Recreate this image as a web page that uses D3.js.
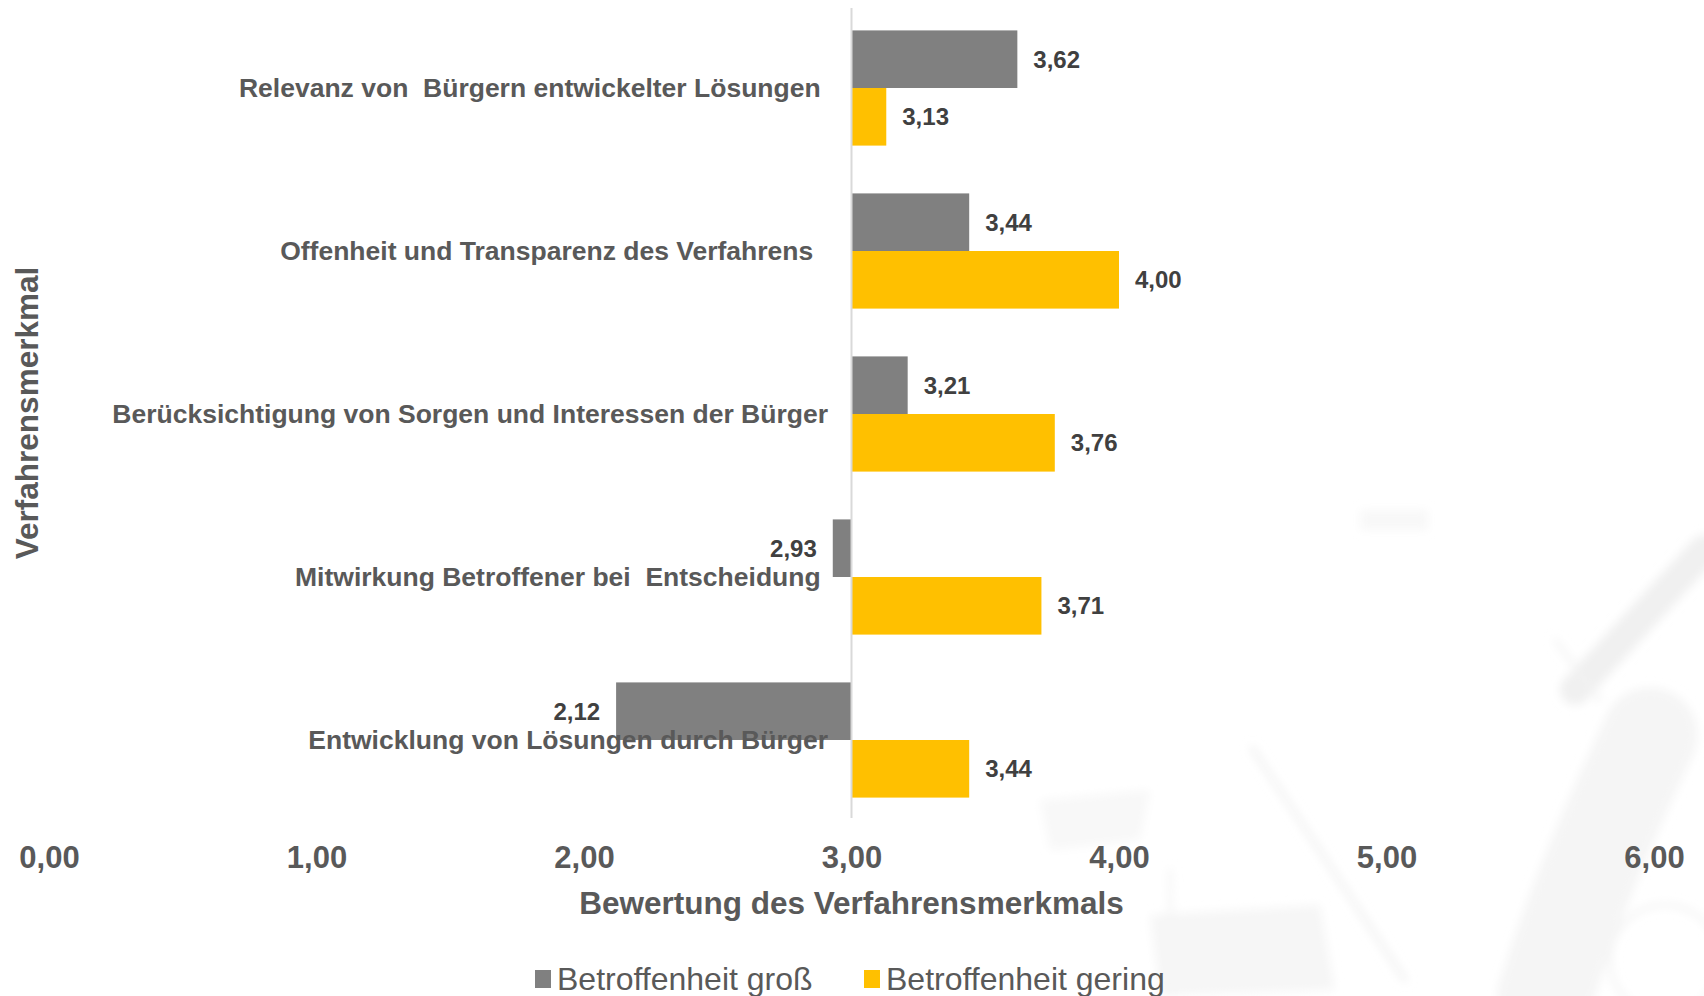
<!DOCTYPE html>
<html lang="de">
<head>
<meta charset="utf-8">
<title>Bewertung der Verfahrensmerkmale</title>
<script src="https://cdn.jsdelivr.net/npm/d3@7"></script>
<style>
  html, body { margin: 0; padding: 0; background: #ffffff; }
  svg { display: block; font-family: "Liberation Sans", Arial, sans-serif; }
  text { white-space: pre; }
</style>
</head>
<body>
<svg id="chart" width="1704" height="996"></svg>
<script>
// Verfahrensmerkmale (top to bottom)
const categories = [
  "Relevanz von  Bürgern entwickelter Lösungen ",
  "Offenheit und Transparenz des Verfahrens  ",
  "Berücksichtigung von Sorgen und Interessen der Bürger",
  "Mitwirkung Betroffener bei  Entscheidung ",
  "Entwicklung von Lösungen durch Bürger"
];
const seriesNames = ["Betroffenheit groß", "Betroffenheit gering"];
const valuesGross  = [3.62, 3.44, 3.21, 2.93, 2.12];
const valuesGering = [3.13, 4.00, 3.76, 3.71, 3.44];
const xTicks = [0, 1, 2, 3, 4, 5, 6];
const baseline = 3;   // bars grow out from the 3,00 crossing
const colors = ["#808080", "#FFC000"];

const svg = d3.select("#chart");
const de = d3.formatLocale({ decimal: ",", thousands: ".", grouping: [3], currency: ["", " €"] });
const fmt = de.format(".2f");

// faint sketch in the lower right background
const bg = svg.append("g").attr("class", "backdrop");
const defs = svg.append("defs");
defs.append("filter").attr("id", "soft")
  .attr("x", "-20%").attr("y", "-20%").attr("width", "140%").attr("height", "140%")
  .append("feGaussianBlur").attr("stdDeviation", 5);
const sk = bg.append("g").attr("filter", "url(#soft)").attr("fill", "none").attr("stroke-linecap", "round");
sk.append("path").attr("d", "M1575,690 L1704,550").attr("stroke", "#f0f0f0").attr("stroke-width", 30);
sk.append("path").attr("d", "M1555,640 L1600,700").attr("stroke", "#f3f3f3").attr("stroke-width", 4);
sk.append("path").attr("d", "M1650,735 C1610,820 1575,900 1545,996").attr("stroke", "#f5f5f5").attr("stroke-width", 95);
sk.append("path").attr("d", "M1150,915 L1320,905 L1335,990 L1160,996 Z").attr("fill", "#f6f6f6").attr("stroke", "none");
sk.append("path").attr("d", "M1252,748 L1405,980").attr("stroke", "#f1f1f1").attr("stroke-width", 5);
sk.append("path").attr("d", "M1170,870 L1172,996").attr("stroke", "#f4f4f4").attr("stroke-width", 4);
sk.append("path").attr("d", "M1360,510 L1428,510 L1428,530 L1360,530 Z").attr("fill", "#f8f8f8").attr("stroke", "none");
sk.append("circle").attr("cx", 1665).attr("cy", 960).attr("r", 55).attr("stroke", "#f3f3f3").attr("stroke-width", 4);
sk.append("path").attr("d", "M1040,800 L1150,790 L1140,840 L1050,850 Z").attr("fill", "#f8f8f8").attr("stroke", "none");

// scales
const x = d3.scaleLinear().domain([0, 6]).range([49, 1654]);
const y = d3.scaleBand().domain(categories).range([6.5, 821.5]).paddingInner(0).paddingOuter(0);
const ySub = d3.scaleBand().domain(seriesNames).range([0, y.bandwidth()]).paddingInner(0).paddingOuter(0.415);

const rows = categories.map((c, i) => ({
  cat: c,
  vals: [
    { s: seriesNames[0], v: valuesGross[i], color: colors[0] },
    { s: seriesNames[1], v: valuesGering[i], color: colors[1] }
  ]
}));

// bars
const groups = svg.append("g").selectAll("g").data(rows).join("g")
  .attr("transform", d => `translate(0,${y(d.cat)})`);

groups.selectAll("rect").data(d => d.vals).join("rect")
  .attr("x", d => x(Math.min(d.v, baseline)))
  .attr("width", d => Math.abs(x(d.v) - x(baseline)))
  .attr("y", d => ySub(d.s))
  .attr("height", ySub.bandwidth())
  .attr("fill", d => d.color);

// value labels
groups.selectAll("text.val").data(d => d.vals).join("text")
  .attr("class", "val")
  .attr("x", d => d.v >= baseline ? x(d.v) + 16 : x(d.v) - 16)
  .attr("y", d => ySub(d.s) + ySub.bandwidth() / 2)
  .attr("dy", "0.35em")
  .attr("text-anchor", d => d.v >= baseline ? "start" : "end")
  .attr("font-size", 24).attr("font-weight", "bold").attr("fill", "#404040")
  .text(d => fmt(d.v));

// vertical axis line at the crossing
svg.append("line")
  .attr("x1", x(baseline)).attr("x2", x(baseline))
  .attr("y1", 8).attr("y2", 818)
  .attr("stroke", "#d9d9d9").attr("stroke-width", 2);

// category labels
svg.append("g").selectAll("text").data(categories).join("text")
  .attr("x", 828)
  .attr("y", d => y(d) + y.bandwidth() / 2)
  .attr("dy", "0.35em")
  .attr("text-anchor", "end")
  .attr("font-size", 26.5).attr("font-weight", "bold").attr("fill", "#595959")
  .text(d => d);

// x axis tick labels
const xAxis = svg.append("g").attr("transform", "translate(0,820)")
  .call(d3.axisBottom(x).tickValues(xTicks).tickSize(0).tickFormat(d => fmt(d)));
xAxis.select(".domain").remove();
xAxis.selectAll("text")
  .attr("y", 37).attr("dy", "0.35em")
  .attr("font-family", "'Liberation Sans', Arial, sans-serif")
  .attr("font-size", 31).attr("font-weight", "bold").attr("fill", "#595959");

// axis titles
svg.append("text")
  .attr("x", x(baseline)).attr("y", 903).attr("dy", "0.35em")
  .attr("text-anchor", "middle")
  .attr("font-size", 31.5).attr("font-weight", "bold").attr("fill", "#595959")
  .text("Bewertung des Verfahrensmerkmals");

svg.append("text")
  .attr("transform", "translate(27,413) rotate(-90)")
  .attr("dy", "0.35em")
  .attr("text-anchor", "middle")
  .attr("font-size", 31.5).attr("font-weight", "bold").attr("fill", "#595959")
  .text("Verfahrensmerkmal");

// legend
const legendX = [535, 864];
const legend = svg.append("g").selectAll("g").data(seriesNames).join("g")
  .attr("transform", (d, i) => `translate(${legendX[i]},979)`);
legend.append("rect")
  .attr("x", 0).attr("y", -9).attr("width", 16).attr("height", 18)
  .attr("fill", (d, i) => colors[i]);
legend.append("text")
  .attr("x", 22).attr("dy", "0.35em")
  .attr("font-size", 32).attr("fill", "#595959")
  .text(d => d);
</script>
</body>
</html>
